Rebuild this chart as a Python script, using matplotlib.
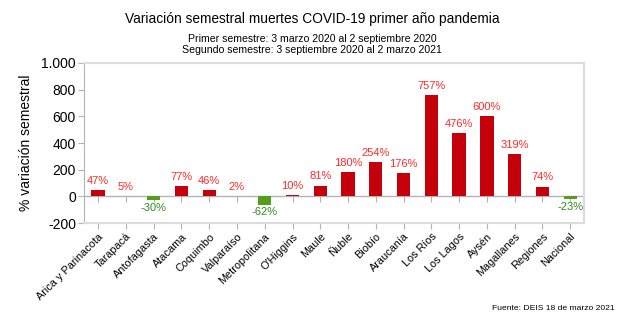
import matplotlib.pyplot as plt

plt.rcParams['font.family'] = ['Liberation Sans', 'DejaVu Sans']

regiones = ["Arica y Parinacota", "Tarapacá", "Antofagasta", "Atacama", "Coquimbo",
            "Valparaíso", "Metropolitana", "O'Higgins", "Maule", "Ñuble", "Biobío",
            "Araucanía", "Los Ríos", "Los Lagos", "Aysén", "Magallanes", "Regiones",
            "Nacional"]
variacion = [47, 5, -30, 77, 46, 2, -62, 10, 81, 180, 254, 176, 757, 476, 600, 319, 74, -23]

RED = "#c5000b"
GREEN = "#579d1c"
RED_TXT = "#ff2a2a"
GREEN_TXT = "#2e8b1a"

fig = plt.figure(figsize=(6.24, 3.21), dpi=100)
ax = fig.add_axes([0.135, 0.305, 0.801, 0.499])

x = list(range(len(regiones)))
colors = [RED if v >= 0 else GREEN for v in variacion]
ax.bar(x, variacion, width=0.48, color=colors, zorder=3)

ax.axhline(0, color="#b3b3b3", lw=1, zorder=2)
# small ticks at the zero line (LibreOffice style)
ax.plot(x, [0] * len(x), ls="none", marker=3, ms=4, mew=0.8, color="#b3b3b3", zorder=2)

for xi, v in zip(x, variacion):
    if v >= 0:
        ax.annotate(f"{v}%", (xi, v), xytext=(0, 3), textcoords="offset points",
                    ha="center", va="bottom", fontsize=8, color=RED_TXT)
    else:
        ax.annotate(f"{v}%", (xi, v), xytext=(0, -2), textcoords="offset points",
                    ha="center", va="top", fontsize=8, color=GREEN_TXT)

ax.set_xlim(-0.5, len(regiones) - 0.5)
ax.set_ylim(-200, 1000)
ax.set_yticks([-200, 0, 200, 400, 600, 800, 1000])
ax.set_yticklabels(["-200", "0", "200", "400", "600", "800", "1.000"], fontsize=10)
ax.set_xticks(x)
ax.set_xticklabels(regiones, rotation=45, ha="right", rotation_mode="anchor", fontsize=7.8)
ax.tick_params(axis="both", length=4, color="#b3b3b3", pad=2)
ax.set_ylabel("% variación semestral", fontsize=10, labelpad=6)

for side in ["top", "right", "bottom"]:
    ax.spines[side].set_color("#dcdcdc")
    ax.spines[side].set_linewidth(1.5)
ax.spines["left"].set_color("#b3b3b3")

fig.text(0.5, 0.927, "Variación semestral muertes COVID-19 primer año pandemia",
         ha="center", fontsize=9.9)
fig.text(0.5, 0.869, "Primer semestre: 3 marzo 2020 al 2 septiembre 2020",
         ha="center", fontsize=7.6)
fig.text(0.5, 0.835, "Segundo semestre: 3 septiembre 2020 al 2 marzo 2021",
         ha="center", fontsize=7.6)
fig.text(0.985, 0.035, "Fuente: DEIS 18 de marzo 2021", ha="right", fontsize=6.1)

fig.savefig("out.png", dpi=100)
